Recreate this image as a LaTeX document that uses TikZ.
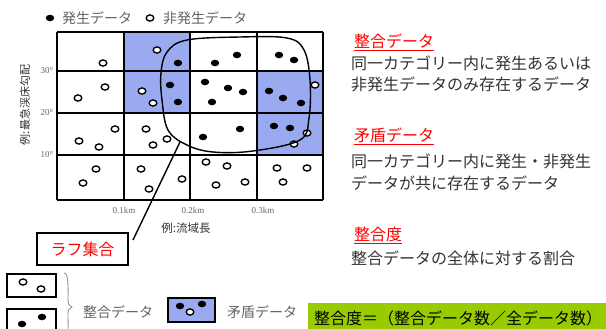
\documentclass[tikz,border=0pt]{standalone}
\usepackage{fontspec}
\setmainfont{Noto Sans CJK JP}
\newfontfamily\jpfont{Noto Sans CJK JP}
\newfontfamily\serif{Liberation Serif}
\definecolor{cellblue}{RGB}{153,170,240}
\definecolor{limegreen}{RGB}{153,204,0}
\definecolor{txtgray}{RGB}{51,51,51}
\definecolor{lgdgray}{RGB}{100,100,100}
\newcommand\mydotf[1]{\fill[black] (#1) ellipse [x radius=4.2pt, y radius=3.3pt];}
\newcommand\mydoto[1]{\draw[black, line width=1.3pt, fill=white] (#1) ellipse [x radius=3.8pt, y radius=3.1pt];}
\begin{document}
\begin{tikzpicture}[x=1pt,y=-1pt,
  gridline/.style={line width=1.7pt, black},
  bodytxt/.style={anchor=west, inner sep=0pt, text=txtgray, font=\jpfont\fontsize{16}{16}\selectfont},
  headtxt/.style={anchor=west, inner sep=0pt, text=red, font=\jpfont\fontsize{16}{16}\selectfont},
  lgdtxt/.style={anchor=west, inner sep=0pt, text=lgdgray, font=\jpfont\fontsize{14}{14}\selectfont},
  ticktxt/.style={inner sep=0pt, text=lgdgray, font=\serif\fontsize{9}{9}\selectfont},
  lgdbox/.style={draw=black, line width=1.5pt}
]
\useasboundingbox (0,0) rectangle (606,329);
\fill[white] (0,0) rectangle (606,329);

% blue cells
\fill[cellblue] (124,32) rectangle (190,113);
\fill[cellblue] (257,71) rectangle (323,155);

% grid
\foreach \x in {57,124,190,257,323} \draw[gridline] (\x,32) -- (\x,200);
\foreach \y in {32,71,113,155,200} \draw[gridline] (57,\y) -- (323,\y);

% top legend
\mydotf{50,18}
\node[lgdtxt] (lgf) at (62,18) {発生データ};
\mydoto{150,18}
\node[lgdtxt] (lgo) at (163,18) {非発生データ};

% axis labels
\node[ticktxt] (t30) at (47,71) {30°};
\node[ticktxt] (t20) at (47,113) {20°};
\node[ticktxt] (t10) at (47,155) {10°};
\node[inner sep=0pt, rotate=90, text=txtgray, font=\jpfont\fontsize{11}{11}\selectfont] (ylab) at (25,105) {例:最急渓床勾配};
\node[ticktxt] (x1) at (124,210) {0.1km};
\node[ticktxt] (x2) at (193,210) {0.2km};
\node[ticktxt] (x3) at (263,210) {0.3km};
\node[inner sep=0pt, text=txtgray, font=\jpfont\fontsize{11.5}{11.5}\selectfont] (xlab) at (186,228) {例:流域長};

% row 1
\mydoto{103,63}
\mydoto{157,50} \mydotf{178,63}
\mydotf{215,63} \mydotf{237,55}
\mydotf{279,55} \mydotf{294,60}
% row 2
\mydoto{105,87} \mydoto{78,98}
\mydoto{142,91} \mydoto{153,103} \mydotf{170,85} \mydotf{178,102}
\mydotf{205,82} \mydotf{228,88} \mydotf{243,92} \mydotf{212,102}
\mydotf{269,91} \mydotf{283,98} \mydotf{301,103} \mydoto{315,85}
% row 3
\mydoto{115,129} \mydoto{79,141} \mydoto{99,147}
\mydoto{146,129} \mydoto{167,139} \mydoto{153,145}
\mydotf{203,137} \mydotf{240,129}
\mydotf{274,126} \mydotf{290,128} \mydoto{307,133} \mydoto{294,144}
% row 4
\mydoto{96,169} \mydoto{83,183}
\mydoto{141,169} \mydoto{182,179} \mydoto{149,189}
\mydoto{206,162} \mydoto{227,166} \mydoto{216,185} \mydoto{245,182}
\mydoto{277,168} \mydoto{307,168} \mydoto{283,182}

% rough set blob
\draw[line width=1.4pt] plot[smooth cycle, tension=0.6] coordinates {
  (167,52) (187,40) (240,37) (287,38) (304,50) (310,80) (309,118) (300,140)
  (253,151) (213,152) (187,145) (168,130) (162,100) (161,73)};
\coordinate (blobpt) at (180,142);
\coordinate (boxpt) at (133,240);
\draw[line width=1.4pt] (blobpt) -- (boxpt);

% rough set label box
\node[draw=black, line width=2pt, fill=white, minimum width=91pt, minimum height=32pt, inner sep=0pt,
  text=red, font=\jpfont\fontsize{16}{16}\selectfont] (rough) at (82.5,249) {ラフ集合};

% right column
\node[headtxt] (h1) at (354,42) {\underline{整合データ}};
\node[bodytxt] (b11) at (351,63) {同一カテゴリー内に発生あるいは};
\node[bodytxt] (b12) at (351,84) {非発生データのみ存在するデータ};
\node[headtxt] (h2) at (354,136) {\underline{矛盾データ}};
\node[bodytxt] (b21) at (351,161) {同一カテゴリー内に発生・非発生};
\node[bodytxt] (b22) at (351,183) {データが共に存在するデータ};
\node[headtxt] (h3) at (354,235) {\underline{整合度}};
\node[bodytxt] (b31) at (351,258) {整合データの全体に対する割合};

% bottom legend
\draw[lgdbox, fill=white] (7,274) rectangle (56,297);
\mydoto{23,282} \mydoto{41,289}
\draw[lgdbox, fill=white] (7,309) rectangle (56,340);
\mydotf{22,324} \mydotf{42,317}
\draw[lgdgray!70, line width=0.9pt] (64,273) .. controls (69,273) and (68,290) .. (68,300)
  .. controls (68,304) and (69,306) .. (72,307)
  .. controls (69,308) and (68,310) .. (68,314) .. controls (68,324) and (69,340) .. (64,340);
\node[lgdtxt] (lg1) at (83,312) {整合データ};
\draw[lgdbox, fill=cellblue] (168,298) rectangle (215,322);
\mydotf{180,306} \mydotf{202,304} \mydoto{190,312}
\node[lgdtxt] (lg2) at (227,312) {矛盾データ};

% green formula box
\fill[limegreen] (308,303) rectangle (606,329);
\node[anchor=west, inner sep=0pt, text=black, font=\jpfont\fontsize{16}{16}\selectfont] (formula) at (314,318) {整合度＝（整合データ数／全データ数）};
\end{tikzpicture}
\end{document}
